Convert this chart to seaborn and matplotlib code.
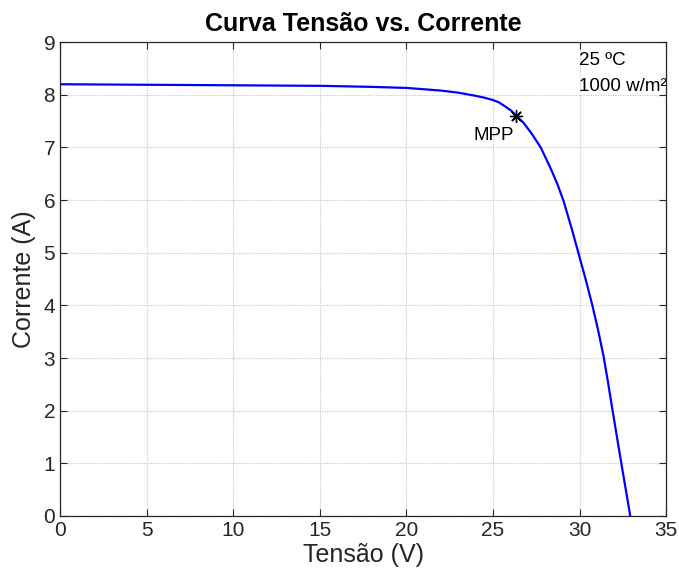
import matplotlib
matplotlib.use("Agg")
import matplotlib.pyplot as plt
import seaborn as sns
import pandas as pd

tensao = [0, 5, 10, 15, 18, 20, 22, 23, 24, 24.5, 25, 25.35, 25.7, 26.05, 26.35,
          26.76, 27.24, 27.74, 28.05, 28.39, 28.75, 29.08, 29.53, 29.94, 30.35,
          30.75, 31.08, 31.39, 31.65, 31.9, 32.41, 32.93]
corrente = [8.20, 8.19, 8.18, 8.17, 8.15, 8.13, 8.08, 8.04, 7.98, 7.945, 7.90, 7.855,
            7.78, 7.70, 7.60, 7.47, 7.26, 7.01, 6.80, 6.56, 6.28, 5.98, 5.48, 4.99,
            4.50, 3.99, 3.52, 3.03, 2.53, 2.02, 1.01, 0.00]
mpp_v = [26.35]
mpp_i = [7.60]
xticks = [0, 5, 10, 15, 20, 25, 30, 35]
yticks = [0, 1, 2, 3, 4, 5, 6, 7, 8, 9]

sns.set_theme(style="white")
plt.rcParams['font.family'] = ['Liberation Sans', 'DejaVu Sans']

df = pd.DataFrame({"Tensão (V)": tensao, "Corrente (A)": corrente})

fig = plt.figure(figsize=(6.79, 5.85), dpi=100)
ax = fig.add_axes([0.0884, 0.118, 0.8926, 0.810])

sns.lineplot(data=df, x="Tensão (V)", y="Corrente (A)", ax=ax, color="#0000ff",
             linewidth=1.6, sort=False, estimator=None)
ax.scatter(mpp_v, mpp_i, marker=(8, 2, 0), s=75, color="black", linewidths=1.0,
           zorder=5)

ax.set_xlim(0, 35)
ax.set_ylim(0, 9)
ax.set_xticks(xticks)
ax.set_yticks(yticks)
ax.grid(True, linestyle=(0, (1, 1.2)), color="#c4c4c4", linewidth=0.8)
ax.tick_params(direction="in", length=5, width=0.8, labelsize=15, colors="#262626",
               top=True, right=True, bottom=True, left=True,
               labeltop=False, labelright=False)
for s in ax.spines.values():
    s.set_color("#262626")
    s.set_linewidth(0.9)

ax.set_xlabel("Tensão (V)", fontsize=18, color="#262626", labelpad=2)
ax.set_ylabel("Corrente (A)", fontsize=18, color="#262626", labelpad=5)
ax.set_title("Curva Tensão vs. Corrente", fontsize=18, fontweight="bold", pad=8,
             color="black")

ax.text(29.95, 8.66, "25 ºC", fontsize=13.5, ha="left", va="center", color="black")
ax.text(29.95, 8.16, "1000 w/m²", fontsize=13.5, ha="left", va="center", color="black")
ax.text(23.85, 7.23, "MPP", fontsize=13.5, ha="left", va="center", color="black")

fig.savefig("out.png", dpi=100)
